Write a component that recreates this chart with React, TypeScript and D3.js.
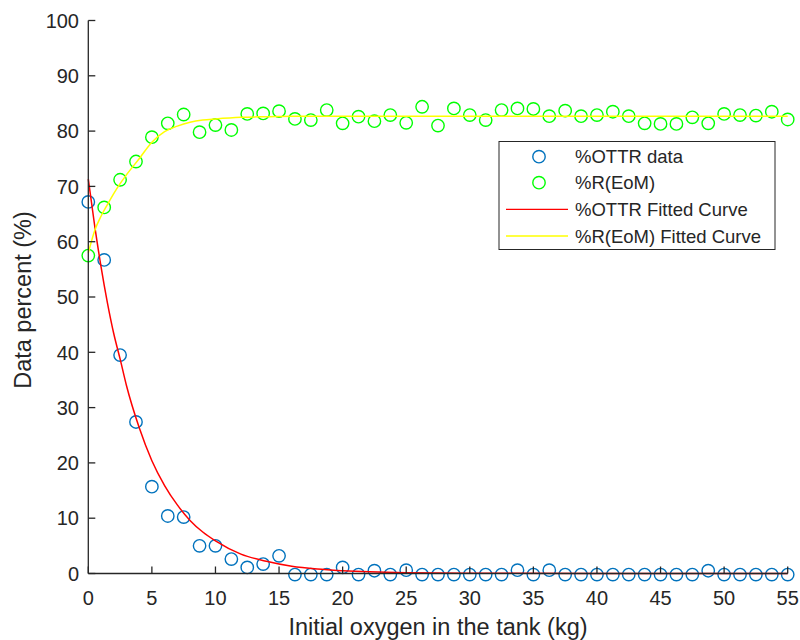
import React from "react";
import * as d3 from "d3";

const xValues = [0, 1.25, 2.5, 3.75, 5, 6.25, 7.5, 8.75, 10, 11.25, 12.5, 13.75, 15, 16.25, 17.5, 18.75, 20, 21.25, 22.5, 23.75, 25, 26.25, 27.5, 28.75, 30, 31.25, 32.5, 33.75, 35, 36.25, 37.5, 38.75, 40, 41.25, 42.5, 43.75, 45, 46.25, 47.5, 48.75, 50, 51.25, 52.5, 53.75, 55];
const ottrData = [67.2, 56.7, 39.5, 27.4, 15.7, 10.4, 10.2, 5.0, 5.0, 2.6, 1.1, 1.7, 3.2, -0.2, -0.2, -0.2, 1.1, -0.2, 0.5, -0.2, 0.6, -0.2, -0.2, -0.2, -0.2, -0.2, -0.2, 0.6, -0.2, 0.6, -0.2, -0.2, -0.2, -0.2, -0.2, -0.2, -0.2, -0.2, -0.2, 0.5, -0.2, -0.2, -0.2, -0.2, -0.2];
const eomData = [57.5, 66.2, 71.2, 74.5, 78.9, 81.4, 83.0, 79.8, 81.1, 80.2, 83.1, 83.2, 83.6, 82.2, 82.0, 83.8, 81.4, 82.6, 81.8, 82.9, 81.5, 84.4, 81.0, 84.1, 82.9, 82.0, 83.8, 84.1, 84.0, 82.7, 83.7, 82.7, 82.9, 83.5, 82.7, 81.4, 81.3, 81.3, 82.5, 81.4, 83.1, 82.9, 82.8, 83.5, 82.1];

const fitX = [0, 0.5, 1, 1.5, 2, 2.5, 3, 4, 5, 6, 7, 8, 9, 10, 12, 14, 16, 18, 20, 25, 30, 40, 55];
const ottrFit = [71.3, 62.9, 55.5, 49.0, 43.4, 38.8, 34.0, 26.4, 20.4, 15.9, 12.4, 9.6, 7.5, 5.9, 3.5, 2.2, 1.3, 0.8, 0.5, 0.15, 0.05, 0, 0];
const eomFit = [58.0, 62.0, 64.6, 66.7, 68.7, 70.5, 72.1, 75.0, 78.0, 79.9, 80.9, 81.6, 82.0, 82.2, 82.5, 82.6, 82.7, 82.7, 82.7, 82.7, 82.7, 82.7, 82.7];

const xTicks = [0, 5, 10, 15, 20, 25, 30, 35, 40, 45, 50, 55];
const yTicks = [0, 10, 20, 30, 40, 50, 60, 70, 80, 90, 100];

const legendLabels = ["%OTTR data", "%R(EoM)", "%OTTR Fitted Curve", "%R(EoM) Fitted Curve"];
const xLabel = "Initial oxygen in the tank (kg)";
const yLabel = "Data percent (%)";

const BLUE = "#0072BD";
const GREEN = "#00FF00";
const RED = "#FF0000";
const YELLOW = "#FFFF00";
const AXIS = "#262626";
const FONT = "'Liberation Sans', Arial, Helvetica, sans-serif";

export default function App() {
  const W = 800, H = 640;
  const left = 88.3, right = 787.7, top = 20.5, bottom = 573.5;
  const x = d3.scaleLinear().domain([0, 55]).range([left, right]);
  const y = d3.scaleLinear().domain([0, 100]).range([bottom, top]);

  const line = d3.line<[number, number]>()
    .x((d) => x(d[0]))
    .y((d) => y(d[1]))
    .curve(d3.curveMonotoneX);

  const redPath = line(fitX.map((v, i) => [v, ottrFit[i]] as [number, number])) || "";
  const yellowPath = line(fitX.map((v, i) => [v, eomFit[i]] as [number, number])) || "";

  const r = 6.2;
  const legX = 499, legY = 141.5, legW = 276, legH = 108;
  const rowY = [156.7, 182.7, 209.3, 236];

  return (
    <svg width={W} height={H} style={{ position: "absolute", left: 0, top: 0, background: "#fff" }}>
      <rect x={0} y={0} width={W} height={H} fill="#fff" />
      <g fill="none" strokeWidth={1.4}>
        {xValues.map((v, i) => (
          <circle key={"b" + i} cx={x(v)} cy={y(ottrData[i])} r={r} stroke={BLUE} />
        ))}
        {xValues.map((v, i) => (
          <circle key={"g" + i} cx={x(v)} cy={y(eomData[i])} r={r} stroke={GREEN} />
        ))}
      </g>
      <path d={redPath} fill="none" stroke={RED} strokeWidth={1.5} />
      <path d={yellowPath} fill="none" stroke={YELLOW} strokeWidth={1.5} />

      <g stroke={AXIS} strokeWidth={1.3} fill="none">
        <line x1={left} y1={top} x2={left} y2={bottom} />
        <line x1={left} y1={bottom} x2={right} y2={bottom} />
        {yTicks.map((t) => (
          <line key={"yt" + t} x1={left} x2={left + 7} y1={y(t)} y2={y(t)} />
        ))}
        {xTicks.map((t) => (
          <line key={"xt" + t} x1={x(t)} x2={x(t)} y1={bottom} y2={bottom - 7} />
        ))}
      </g>
      <g fill={AXIS} fontFamily={FONT} fontSize={20}>
        {yTicks.map((t) => (
          <text key={"yl" + t} x={79} y={y(t)} dy="0.36em" textAnchor="end">{t}</text>
        ))}
        {xTicks.map((t) => (
          <text key={"xl" + t} x={x(t)} y={605} textAnchor="middle">{t}</text>
        ))}
      </g>
      <text x={(left + right) / 2} y={634.5} textAnchor="middle" fontFamily={FONT} fontSize={23.5} fill={AXIS}>{xLabel}</text>
      <text transform={`translate(31,${(top + bottom) / 2 + 3}) rotate(-90)`} textAnchor="middle" fontFamily={FONT} fontSize={23.5} fill={AXIS}>{yLabel}</text>

      <rect x={legX} y={legY} width={legW} height={legH} fill="#fff" stroke={AXIS} strokeWidth={1} />
      <circle cx={539} cy={rowY[0]} r={r} fill="none" stroke={BLUE} strokeWidth={1.4} />
      <circle cx={539} cy={rowY[1]} r={r} fill="none" stroke={GREEN} strokeWidth={1.4} />
      <line x1={506} x2={568} y1={rowY[2]} y2={rowY[2]} stroke={RED} strokeWidth={1.3} />
      <line x1={506} x2={568} y1={rowY[3]} y2={rowY[3]} stroke={YELLOW} strokeWidth={1.3} />
      <g fontFamily={FONT} fontSize={18.5} fill={AXIS}>
        {legendLabels.map((l, i) => (
          <text key={l} x={575} y={rowY[i]} dy="0.36em">{l}</text>
        ))}
      </g>
    </svg>
  );
}
